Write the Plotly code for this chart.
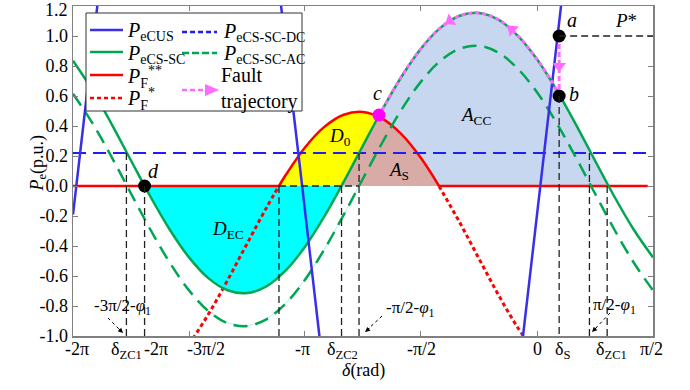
import plotly.graph_objects as go

# ---------------- data ----------------
delta = [-6.283, -6.021, -5.760, -5.498, -5.236, -4.974, -4.712, -4.451, -4.189, -3.927,
         -3.665, -3.403, -3.142, -2.880, -2.618, -2.356, -2.094, -1.833, -1.571, -1.309,
         -1.047, -0.785, -0.524, -0.262, 0.000, 0.262, 0.524, 0.785, 1.047, 1.309, 1.571]
p_ecs_sc = [0.835, 0.640, 0.413, 0.170, -0.070, -0.290, -0.476, -0.614, -0.695, -0.714,
            -0.669, -0.563, -0.405, -0.203, 0.027, 0.270, 0.510, 0.730, 0.916, 1.054,
            1.135, 1.154, 1.109, 1.003, 0.845, 0.643, 0.413, 0.170, -0.070, -0.290, -0.476]
p_ecs_sc_ac = [0.615, 0.420, 0.193, -0.050, -0.290, -0.510, -0.696, -0.834, -0.915, -0.934,
               -0.889, -0.783, -0.625, -0.423, -0.193, 0.050, 0.290, 0.510, 0.696, 0.834,
               0.915, 0.934, 0.889, 0.783, 0.625, 0.423, 0.193, -0.050, -0.290, -0.510, -0.696]
p_ecs_sc_dc = 0.22

pf_hump_x = [-3.494, -3.403, -3.142, -2.880, -2.618, -2.356, -2.094, -1.833, -1.571, -1.327]
pf_hump_y = [0.0, 0.073, 0.257, 0.394, 0.475, 0.494, 0.449, 0.344, 0.186, 0.0]
pf_flat_left_x = [-6.283, -3.494]
pf_flat_right_x = [-1.327, 1.50]
pf_star_left_x = [-4.712, -4.451, -4.189, -3.927, -3.665, -3.494]
pf_star_left_y = [-1.056, -0.856, -0.627, -0.385, -0.146, 0.0]
pf_star_right_x = [-1.327, -1.047, -0.785, -0.524, -0.262, 0.0]
pf_star_right_y = [0.0, -0.243, -0.485, -0.724, -0.943, -1.127]

pecus_b1_x = [-6.283, -6.10, -5.93]
pecus_b1_y = [-0.19, 0.59, 1.30]
pecus_b2_x = [-3.48, -3.18, -2.93]
pecus_b2_y = [1.26, 0.0, -1.07]
pecus_b3_x = [-0.22, 0.045, 0.33]
pecus_b3_y = [-1.13, 0.0, 1.22]

pt_a = (0.30, 1.0)
pt_b = (0.30, 0.60)
pt_c = (-2.14, 0.473)
pt_d = (-5.314, 0.0)
zc_sc = [-5.314, -2.647, 0.95]      # zero crossings of P_eCS-SC
zc_ac = [-5.56, -2.41, 0.71]        # zero crossings of P_eCS-SC-AC
p_star = 1.0

y_tick_vals = [-1.0, -0.8, -0.6, -0.4, -0.2, 0.0, 0.2, 0.4, 0.6, 0.8, 1.0, 1.2]
y_tick_text = ["-1.0", "-0.8", "-0.6", "-0.4", "-0.2", "0.0", "0.2", "0.4", "0.6", "0.8", "1.0", "1.2"]
x_tick_vals = [-6.283, -4.712, -3.142, -1.571, 0.0, 1.571]

# ---------------- layout helpers ----------------
W, H = 690, 390
L, R, T, B = 73, 37, 6, 54
PW, PH = W - L - R, H - T - B
def px(x): return (x - L) / PW
def py(y): return (H - B - y) / PH

FONT = "Liberation Serif"
GREEN = "#00A651"
BLUE = "#3A2FE8"
DBLUE = "#1F1FF5"
RED = "#FF0000"
PINK = "#FF6BFF"

fig = go.Figure()
def add(x, y, **kw):
    kw.setdefault("hoverinfo", "skip")
    kw.setdefault("showlegend", False)
    fig.add_trace(go.Scatter(x=x, y=y, **kw))

# ---------------- filled areas ----------------
cyan_x = [pt_d[0]] + delta[4:14] + [zc_sc[1]]
cyan_y = [0.0] + p_ecs_sc[4:14] + [0.0]
add(cyan_x, cyan_y, mode="lines", fill="toself", fillcolor="#00FFFF", line=dict(width=0))

yel_x = pf_hump_x[0:6] + [pt_c[0], delta[15], delta[14], zc_sc[1]]
yel_y = pf_hump_y[0:6] + [pt_c[1], p_ecs_sc[15], p_ecs_sc[14], 0.0]
add(yel_x, yel_y, mode="lines", fill="toself", fillcolor="#FFFF00", line=dict(width=0))

as_x = [zc_sc[1], delta[14], delta[15], pt_c[0]] + pf_hump_x[6:10]
as_y = [0.0, p_ecs_sc[14], p_ecs_sc[15], pt_c[1]] + pf_hump_y[6:10]
add(as_x, as_y, mode="lines", fill="toself", fillcolor="#D9ABA7", line=dict(width=0))

acc_x = [pt_c[0]] + delta[16:28] + [zc_sc[2]] + pf_hump_x[6:10][::-1]
acc_y = [pt_c[1]] + p_ecs_sc[16:28] + [0.0] + pf_hump_y[6:10][::-1]
add(acc_x, acc_y, mode="lines", fill="toself", fillcolor="#C6D7EF", line=dict(width=0))

# thin cyan edge along the AC curve
add(delta[7:15] + [zc_ac[1], zc_sc[1]], p_ecs_sc_ac[7:15] + [0.0, 0.0], mode="lines",
    line=dict(color="#A8F4F4", width=1))

# ---------------- curves ----------------
add(pf_flat_left_x, [0, 0], mode="lines", line=dict(color=RED, width=2.5))
add(pf_flat_right_x, [0, 0], mode="lines", line=dict(color=RED, width=2.5))
add(pf_hump_x, pf_hump_y, mode="lines", line=dict(color=RED, width=2.5, shape="spline"))
add(pf_star_left_x, pf_star_left_y, mode="lines", line=dict(color=RED, width=3, dash="4px,3px", shape="spline"))
add(pf_star_right_x, pf_star_right_y, mode="lines", line=dict(color=RED, width=3, dash="4px,3px", shape="spline"))

add([delta[0], delta[-1]], [p_ecs_sc_dc, p_ecs_sc_dc], mode="lines",
    line=dict(color=DBLUE, width=2, dash="13px,7px"))
add(delta, p_ecs_sc_ac, mode="lines", line=dict(color=GREEN, width=2.5, dash="14px,8px", shape="spline"))
add(delta, p_ecs_sc, mode="lines", line=dict(color=GREEN, width=2.5, shape="spline"))

for bx, by in [(pecus_b1_x, pecus_b1_y), (pecus_b2_x, pecus_b2_y), (pecus_b3_x, pecus_b3_y)]:
    add(bx, by, mode="lines", line=dict(color=BLUE, width=2.5, shape="spline"))

# fault trajectory
traj_x = [pt_b[0]] + delta[16:26][::-1] + [pt_c[0]]
traj_y = [pt_b[1]] + p_ecs_sc[16:26][::-1] + [pt_c[1]]
add(traj_x, traj_y, mode="lines", line=dict(color=PINK, width=3, dash="4px,3px", shape="spline"))
add([pt_a[0], pt_b[0]], [pt_a[1], pt_b[1]], mode="lines", line=dict(color=PINK, width=3, dash="5px,3px"))
add([-1.178, -0.339, pt_a[0]], [1.101, 1.043, 0.80], mode="markers",
    marker=dict(symbol="triangle-up", size=12, color=PINK, angle=[237, 312, 180], line=dict(width=0)))

# key points
add([pt_a[0], pt_b[0], pt_d[0]], [pt_a[1], pt_b[1], pt_d[1]], mode="markers",
    marker=dict(size=13, color="black"))
add([pt_c[0]], [pt_c[1]], mode="markers", marker=dict(size=13, color="#FF00FF"))

# ---------------- shapes ----------------
shapes = []
DASHK = dict(color="#222222", width=1.3, dash="7px,4px")
for vx, vt in [(zc_ac[0], p_ecs_sc_dc), (zc_sc[0], 0.0), (pf_hump_x[0], 0.0), (zc_sc[1], 0.0),
               (zc_ac[1], p_ecs_sc_dc), (pt_b[0], pt_b[1]), (zc_ac[2], p_ecs_sc_dc), (zc_sc[2], 0.0)]:
    shapes.append(dict(type="line", xref="x", yref="y", x0=vx, x1=vx, y0=vt, y1=-1.0, line=DASHK))
shapes.append(dict(type="line", xref="x", yref="y", x0=pf_hump_x[0], x1=zc_ac[1], y0=0, y1=0, line=DASHK))
shapes.append(dict(type="line", xref="x", yref="y", x0=pt_a[0], x1=1.571, y0=p_star, y1=p_star, line=DASHK))

# annotation arrows (dotted shafts)
for (x0, y0, x1, y1) in [(108, 318, 121, 331), (382, 316, 367, 330), (610, 313, 594, 330)]:
    shapes.append(dict(type="line", xref="paper", yref="paper", x0=px(x0), y0=py(y0), x1=px(x1), y1=py(y1),
                       line=dict(color="black", width=1, dash="dot")))

# legend box
shapes.append(dict(type="rect", xref="paper", yref="paper", x0=px(86), x1=px(302), y0=py(111), y1=py(13),
                   fillcolor="white", line=dict(color="#333333", width=1), layer="above"))
def lg_line(x0, x1, y, **line):
    shapes.append(dict(type="line", xref="paper", yref="paper", x0=px(x0), x1=px(x1), y0=py(y), y1=py(y),
                       line=line, layer="above"))
lg_line(90, 123, 30, color=BLUE, width=2.5)
lg_line(90, 123, 52, color=GREEN, width=2.5)
lg_line(90, 123, 75, color=RED, width=2.5)
lg_line(90, 123, 98, color=RED, width=2.5, dash="4px,3px")
lg_line(182, 217, 32, color=DBLUE, width=2.5, dash="5px,3px")
lg_line(182, 217, 53, color=GREEN, width=2.5, dash="7px,3px")
lg_line(182, 206, 90, color=PINK, width=2.5, dash="5px,3px")
shapes.append(dict(type="path", xref="paper", yref="paper",
                   path="M {},{} L {},{} L {},{} Z".format(px(205), py(84), px(219), py(90), px(205), py(96)),
                   fillcolor=PINK, line=dict(width=0), layer="above"))

# ---------------- annotations ----------------
ann = []
def txt(x, y, s, size=18, xanchor="center", yanchor="middle", **kw):
    ann.append(dict(x=px(x), y=py(y), xref="paper", yref="paper", text=s, showarrow=False,
                    xanchor=xanchor, yanchor=yanchor, font=dict(family=FONT, size=size, color="black"), **kw))

x_labels = [("-2π", 77), ("δ<sub>ZC1</sub>", 126), ("-2π", 156), ("-3π/2", 206), ("-π", 302),
            ("δ<sub>ZC2</sub>", 342), ("-π/2", 421), ("0", 537), ("δ<sub>S</sub>", 563),
            ("δ<sub>ZC1</sub>", 611), ("π/2", 651)]
for s, x in x_labels:
    txt(x, 337, s, size=18, yanchor="top")

# top y label drawn slightly lower so it is not cut at the page edge
y_axis_text = list(y_tick_text)
top_label = y_axis_text[-1]
y_axis_text[-1] = ""
txt(70, 10, top_label, size=18, xanchor="right")

txt(363, 371, "<i>δ</i>(rad)", size=18)
ann.append(dict(x=px(25), y=py(163), xref="paper", yref="paper", text="<i>P</i><sub>e</sub>(p.u.)",
                showarrow=False, textangle=-90, font=dict(family=FONT, size=18, color="black")))

txt(122, 307, "-3π/2-<i>φ</i><sub>1</sub>", size=17)
txt(410, 309, "-π/2-<i>φ</i><sub>1</sub>", size=17)
txt(614, 306, "π/2-<i>φ</i><sub>1</sub>", size=17)

for (tx, ty, ax, ay) in [(123, 333, -6, -6), (365, 332, 6, -5), (592, 332, 6, -6)]:
    ann.append(dict(x=px(tx), y=py(ty), xref="paper", yref="paper", text="", showarrow=True,
                    arrowhead=2, arrowsize=1, arrowwidth=1, arrowcolor="black", ax=ax, ay=ay))

txt(572, 20, "<i>a</i>", size=20)
txt(574, 94, "<i>b</i>", size=20)
txt(377, 93, "<i>c</i>", size=20)
txt(153, 171, "<i>d</i>", size=20)
txt(626, 21, "<i>P</i>*", size=19)
txt(340, 137, "<i>D</i><sub>0</sub>", size=19)
txt(398, 171, "<i>A</i><sub>S</sub>", size=19)
txt(475, 116, "<i>A</i><sub>CC</sub>", size=19)
txt(228, 230, "<i>D</i><sub>EC</sub>", size=19)

# legend texts
txt(125, 32, "<i>P</i><sub>eCUS</sub>", size=20, xanchor="left")
txt(125, 54, "<i>P</i><sub>eCS-SC</sub>", size=20, xanchor="left")
txt(125, 77, "<i>P</i><sub>F</sub><sup>**</sup>", size=20, xanchor="left")
txt(125, 99, "<i>P</i><sub>F</sub><sup>*</sup>", size=20, xanchor="left")
txt(221, 33, "<i>P</i><sub>eCS-SC-DC</sub>", size=20, xanchor="left")
txt(221, 55, "<i>P</i><sub>eCS-SC-AC</sub>", size=20, xanchor="left")
txt(219, 88, "Fault<br>trajectory", size=20, xanchor="left", align="left")

fig.update_layout(
    width=W, height=H, margin=dict(l=L, r=R, t=T, b=B, autoexpand=False),
    paper_bgcolor="white", plot_bgcolor="white",
    font=dict(family=FONT, size=18, color="black"),
    shapes=shapes, annotations=ann, showlegend=False,
    xaxis=dict(range=[-6.2832, 1.5708], showgrid=False, zeroline=False, showline=True, linecolor="#808080",
               linewidth=1.5, mirror="ticks", ticks="inside", ticklen=5, tickcolor="#808080",
               tickvals=x_tick_vals, showticklabels=False, automargin=False),
    yaxis=dict(range=[-1.0, 1.2], showgrid=False, zeroline=False, showline=True, linecolor="#808080",
               linewidth=1.5, mirror="ticks", ticks="inside", ticklen=5, tickcolor="#808080",
               tickvals=y_tick_vals, ticktext=y_axis_text, tickfont=dict(family=FONT, size=18),
               automargin=False, ticklabeloverflow="allow"),
)
fig.write_html("out.html", config={"displayModeBar": False, "staticPlot": True},
               post_script="document.body.style.margin='0px';document.body.style.overflow='hidden';")
